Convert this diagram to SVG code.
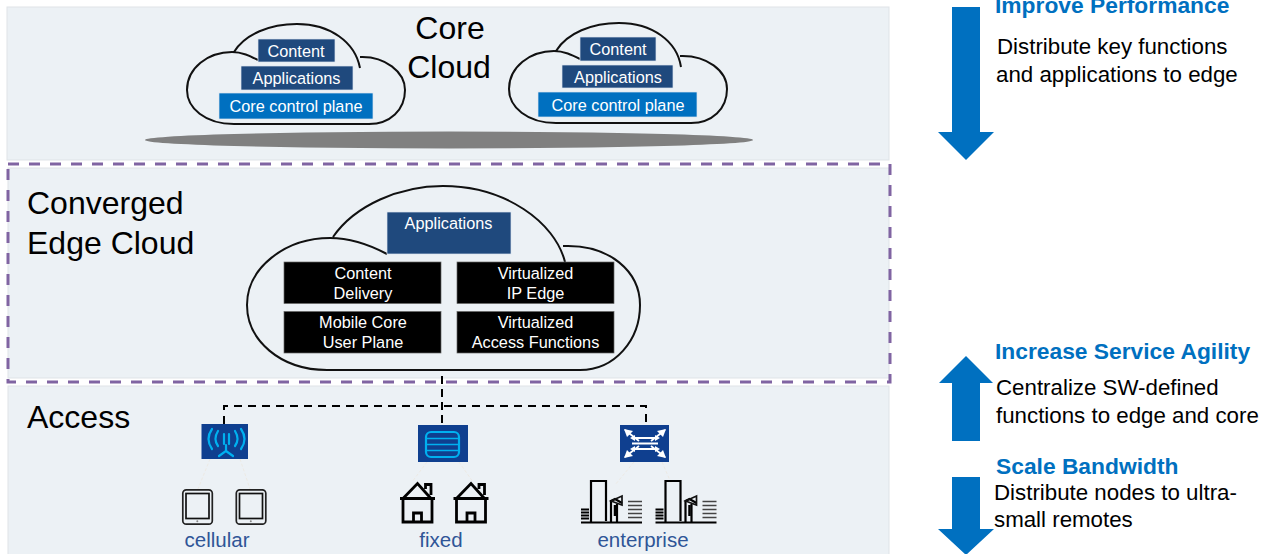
<svg xmlns="http://www.w3.org/2000/svg" xmlns:xlink="http://www.w3.org/1999/xlink" width="1274" height="554" viewBox="0 0 1274 554">
<style>
text{font-family:"Liberation Sans",Arial,sans-serif}
.panel{fill:#ecf1f5;stroke:#dfe3e7;stroke-width:1}
.cloud{fill:none;stroke:#111;stroke-width:2}
.t{fill:#fff;font-size:16.300px;text-anchor:middle}
.big{fill:#000;font-size:32px}
.h{fill:#0070c0;font-size:22.800px;font-weight:bold}
.b{fill:#000;font-size:22.300px}
.lab{fill:#2f5597;font-size:20.500px;text-anchor:middle}
.navy{fill:#1f497d;stroke:#dce6f0;stroke-width:.7}
.blue{fill:#0070c0;stroke:#dce6f0;stroke-width:.7}
.blk{fill:#000;stroke:#666;stroke-width:.7}
.ibox{fill:#0f3f8f}
.arrow{fill:#0070c0}
.cy{fill:none;stroke:#00b0f0;stroke-width:2.200;stroke-linecap:round}
.wh{fill:none;stroke:#fff;stroke-width:1.800}
.faint{stroke:#eceae4;stroke-width:1;stroke-dasharray:3 2;fill:none}
</style>
<defs>
<g id="tablet"><rect x="0.800" y="0.800" width="29.500" height="34.400" rx="3.500" fill="none" stroke="#222" stroke-width="1.700"/><rect x="4" y="4.500" width="23" height="25" fill="none" stroke="#111" stroke-width="1.700"/><circle cx="15.300" cy="32.300" r="1" fill="#888"/></g>
<g id="house"><path fill="none" stroke="#000" stroke-width="2.800" d="M0.500 16.500H35.500M3.500 16.500V40H32.500V16.500M3.500 16.500L18 1.500L31 16M26 7V2.500H31.500V13M14 40V31H22V40"/></g>
<g id="building"><path fill="none" stroke="#000" stroke-width="2.200" d="M0 42.500H61M10 42V1H25V41M30 42V21L34 19L41 23M36 24V42"/><path d="M30 21L41 16V25Z" fill="none" stroke="#111" stroke-width="1.700"/><path d="M34 25V36" stroke="#000" stroke-width="2.500"/><path d="M0 29.500H8M0 32.500H8M0 35.500H8M0 38.500H8" stroke="#000" stroke-width="2.200"/><path d="M47 21.500H61M47 25.500H61M47 29.500H61M47 33.500H61M47 37.500H61" stroke="#444" stroke-width="1.700"/></g>
</defs>

<g id="panels">
<rect class="panel" x="7" y="7" width="882" height="153"/>
<rect class="panel" x="8" y="168" width="881" height="210"/>
<rect class="panel" x="8" y="386" width="881" height="170"/>
</g>

<g id="connectors">
<path d="M224 424V406H646V425" fill="none" stroke="#000" stroke-width="2" stroke-dasharray="8 6"/>
<path d="M442 376V425" fill="none" stroke="#000" stroke-width="2" stroke-dasharray="8 5"/>
<path class="faint" d="M210 459L198 489M240 459L250 489M427 462L412 482M459 462L473 482M634 462L615 485M662 462L672 485"/>
</g>

<g id="core-title"><text class="big" x="450" y="39" text-anchor="middle">Core</text><text class="big" x="449" y="78" text-anchor="middle">Cloud</text></g>

<g id="core-cloud-1">
<path class="cloud" d="M369 124H234C205 124 187 108 187 90C187 68 208 52 232 52C242 52 250 56 258 60M234 52C245 34 270 24 297 24C330 24 355 42 360 68M360 57C385 56 405 72 405 90C405 110 390 124 369 124"/>
<rect class="navy" x="258" y="39" width="77" height="23"/><text class="t" x="296" y="57">Content</text>
<rect class="navy" x="241" y="66" width="112" height="24"/><text class="t" x="296.500" y="84">Applications</text>
<rect class="blue" x="219" y="93" width="154" height="26"/><text class="t" x="296" y="112">Core control plane</text>
</g>

<g id="core-cloud-2">
<path class="cloud" d="M691 123H556C527 123 509 107 509 89C509 67 530 51 554 51C564 51 572 55 580 59M556 51C567 33 592 23 619 23C652 23 677 41 681 67M680 56C707 55 727 71 727 89C727 109 712 123 691 123"/>
<rect class="navy" x="580" y="37" width="76" height="24"/><text class="t" x="618" y="55">Content</text>
<rect class="navy" x="562" y="65" width="111" height="23"/><text class="t" x="618" y="83">Applications</text>
<rect class="blue" x="538" y="92" width="159" height="25"/><text class="t" x="618" y="111">Core control plane</text>
</g>

<ellipse id="platform" cx="449" cy="140" rx="304" ry="8.500" fill="#808080"/>

<g id="edge-title"><text class="big" x="27" y="214">Converged</text><text class="big" x="27" y="254">Edge Cloud</text></g>

<g id="edge-cloud">
<path class="cloud" d="M580 370H327C280 370 247 340 247 305C247 268 285 238 330 238C350 238 370 245 387 254M333 237C355 205 400 186 443 186C505 186 555 222 565 262M563 246C610 244 640 272 640 305C640 340 615 370 580 370"/>
<rect class="navy" x="387" y="212" width="124" height="42"/><text class="t" x="448.500" y="229">Applications</text>
<rect class="blk" x="284" y="262" width="157" height="41.500"/><text class="t" x="363" y="279">Content</text><text class="t" x="363" y="299">Delivery</text>
<rect class="blk" x="457" y="262" width="157" height="41.500"/><text class="t" x="535.500" y="279">Virtualized</text><text class="t" x="535.500" y="299">IP Edge</text>
<rect class="blk" x="284" y="311.500" width="157" height="41.500"/><text class="t" x="363" y="328">Mobile Core</text><text class="t" x="363" y="348">User Plane</text>
<rect class="blk" x="457" y="311.500" width="157" height="41.500"/><text class="t" x="535.500" y="328">Virtualized</text><text class="t" x="535.500" y="348">Access Functions</text>
</g>

<rect id="edge-boundary" x="8" y="164" width="882" height="218" fill="none" stroke="#8064a2" stroke-width="3" stroke-dasharray="11 10"/>

<text id="access-title" class="big" x="27" y="428">Access</text>

<g id="cellular">
<rect class="ibox" x="201.500" y="424" width="46.500" height="35"/>
<path class="cy" d="M224 434V444M229 434V444M218 431Q213 439 218 446M235 431Q240 439 235 446M212 429Q205 439 212 449M241 429Q248 439 241 449M226 445V451L219 456M226 451L233 456"/>
<use xlink:href="#tablet" href="#tablet" x="182" y="489"/>
<use xlink:href="#tablet" href="#tablet" x="235.500" y="489"/>
<text class="lab" x="217" y="547">cellular</text>
</g>

<g id="fixed">
<rect class="ibox" x="418" y="425" width="50" height="37"/>
<rect x="426" y="432" width="33" height="25" rx="5" fill="none" stroke="#00b0f0" stroke-width="2.200"/>
<path d="M426 438.500H459M426 444.500H459M426 450.500H459" stroke="#00b0f0" stroke-width="1.700"/>
<use xlink:href="#house" href="#house" x="399.500" y="482"/>
<use xlink:href="#house" href="#house" x="453" y="482"/>
<text class="lab" x="441" y="547">fixed</text>
</g>

<g id="enterprise">
<rect class="ibox" x="620" y="425" width="49" height="37"/>
<path class="wh" d="M632 438H658M632 443.500H658M632 449H658M625 430L639 441M665 430L651 441M625 457L639 446M665 457L651 446"/>
<path d="M624 429L633 431L627 437ZM666 429L657 431L663 437ZM624 458L633 456L627 450ZM666 458L657 456L663 450ZM630 438L635 435V441ZM660 438L655 435V441ZM630 449L635 446V452ZM660 449L655 446V452Z" fill="#fff"/>
<use xlink:href="#building" href="#building" x="581" y="480"/>
<use xlink:href="#building" href="#building" x="655.500" y="480"/>
<text class="lab" x="643" y="547">enterprise</text>
</g>

<g id="arrow-performance"><path class="arrow" d="M952 7H980V132H994L966 160L938 132H952Z"/></g>
<g id="arrow-agility"><path class="arrow" d="M966 356L993 383H980V441H952V383H939Z"/></g>
<g id="arrow-bandwidth"><path class="arrow" d="M952 477H980V529H994L966 555L938 529H952Z"/></g>

<g id="notes">
<text class="h" x="995" y="13">Improve Performance</text>
<text class="b" x="997" y="54">Distribute key functions</text>
<text class="b" x="996" y="82">and applications to edge</text>
<text class="h" x="995" y="359">Increase Service Agility</text>
<text class="b" x="996" y="395">Centralize SW-defined</text>
<text class="b" x="996" y="423">functions to edge and core</text>
<text class="h" x="996" y="474">Scale Bandwidth</text>
<text class="b" x="994" y="500">Distribute nodes to ultra-</text>
<text class="b" x="994" y="527">small remotes</text>
</g>
</svg>
